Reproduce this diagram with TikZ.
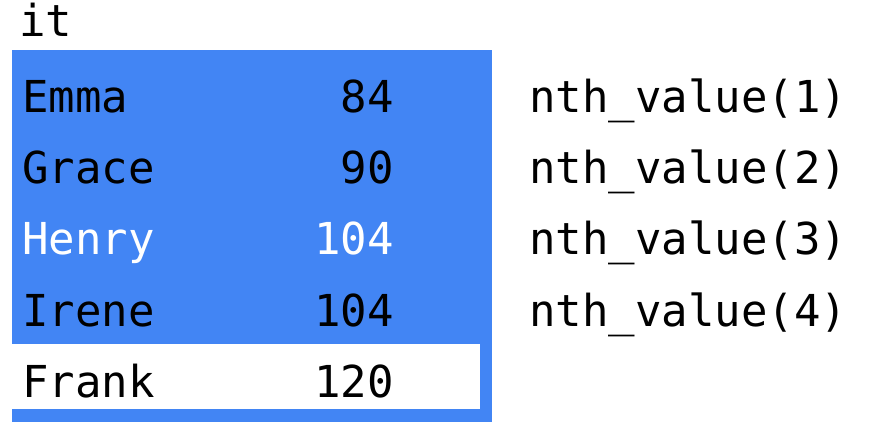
\documentclass[tikz,border=0pt]{standalone}
\usepackage{fontspec}
\setmonofont{DejaVu Sans Mono}
\usetikzlibrary{positioning}
\definecolor{FrameBlue}{HTML}{4285F4}
\definecolor{Ink}{HTML}{000000}
\tikzset{
  cell/.style={inner sep=0pt,font=\ttfamily\fontsize{33}{33}\selectfont,text=Ink},
  who/.style={cell,anchor=base west},
  score/.style={cell,anchor=base east},
  call/.style={cell,anchor=base west}
}

\begin{document}
\begin{tikzpicture}[x=0.75pt,y=-0.75pt]
  \useasboundingbox (0,0) rectangle (880,422);
  \fill[FrameBlue] (12,50) rectangle (492,422);
  \fill[white] (12,344) rectangle (480,409);
  \node[who] (it) at (19,36.5) {it};
  \node[who] (emma) at (22,112) {Emma};  \node[score] (emmaS) at (394,112) {84};
  \node[who] (grace) at (22,183) {Grace}; \node[score] (graceS) at (394,183) {90};
  \node[who,text=white] (henry) at (22,254) {Henry}; \node[score,text=white] (henryS) at (394,254) {104};
  \node[who] (irene) at (22,326) {Irene}; \node[score] (ireneS) at (394,326) {104};
  \node[who] (frank) at (22,397) {Frank}; \node[score] (frankS) at (394,397) {120};
  \node[call] (nth1) at (529,112) {nth\_value(1)};
  \node[call] (nth2) at (529,183) {nth\_value(2)};
  \node[call] (nth3) at (529,254) {nth\_value(3)};
  \node[call] (nth4) at (529,326) {nth\_value(4)};
\end{tikzpicture}
\end{document}
